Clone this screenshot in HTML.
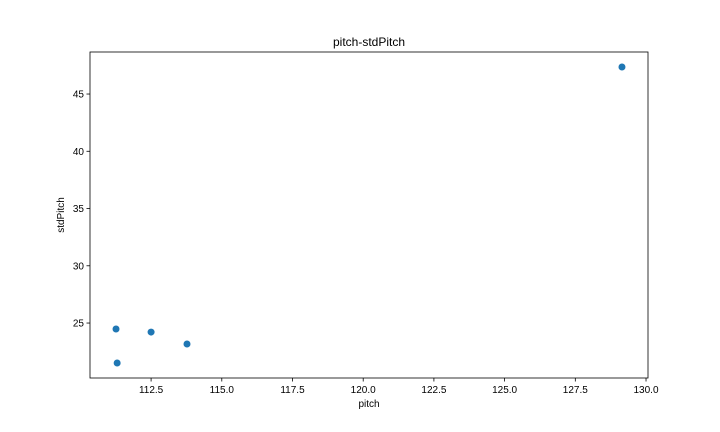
<!DOCTYPE html>
<html><head><meta charset="utf-8"><style>
body{margin:0;background:#fff;}
svg{display:block;font-family:"Liberation Sans","DejaVu Sans",sans-serif;}
</style></head><body>
<svg id="chart" width="720" height="432" viewBox="0 0 720 432">
<rect width="720" height="432" fill="#fff"/>
<text x="369" y="46" text-anchor="middle" font-size="12">pitch-stdPitch</text>
<g id="xt"></g>
<g id="yt"></g>
<g id="pts"></g>
<rect x="90" y="52" width="558" height="326" fill="none" stroke="#000" stroke-width="0.8"/>
<text x="369" y="407" text-anchor="middle" font-size="10">pitch</text>
<text transform="translate(64,215) rotate(-90)" text-anchor="middle" font-size="10">stdPitch</text>
</svg>
<script>
const pitch=[111.26,111.30,112.5,113.77,129.15];
const stdPitch=[24.48,21.51,24.21,23.17,47.36];
const xTicks=[112.5,115.0,117.5,120.0,122.5,125.0,127.5,130.0];
const yTicks=[25,30,35,40,45];
const NS="http://www.w3.org/2000/svg";
const L=90,R=648,T=52,B=378,x0=110.34,x1=130.07,y0=20.20,y1=48.67;
const X=v=>L+(v-x0)/(x1-x0)*(R-L);
const Y=v=>B-(v-y0)/(y1-y0)*(B-T);
function mk(tag,attrs,parent){const e=document.createElementNS(NS,tag);for(const k in attrs)e.setAttribute(k,attrs[k]);parent.appendChild(e);return e;}
const xt=document.getElementById('xt'),yt=document.getElementById('yt'),pts=document.getElementById('pts');
xTicks.forEach(v=>{
  const l=mk('line',{x1:X(v),x2:X(v),y1:B,y2:B+3.5,stroke:'#000','stroke-width':0.8},xt);
  
  
  const t=mk('text',{x:X(v),y:B+15,'text-anchor':'middle','font-size':10},xt);
  
  
  t.textContent=v.toFixed(1);
});
yTicks.forEach(v=>{
  const l=mk('line',{x1:L-3.5,x2:L,y1:Y(v),y2:Y(v),stroke:'#000','stroke-width':0.8},yt);
  
  
  const t=mk('text',{x:L-6,y:Y(v)+3.5,'text-anchor':'end','font-size':10},yt);
  
  
  t.textContent=v;
});
pitch.forEach((p,i)=>{
  const c=mk('circle',{cx:X(p),cy:Y(stdPitch[i]),r:3.5,fill:'#1f77b4'},pts);
  
  
});
</script>
</body></html>
